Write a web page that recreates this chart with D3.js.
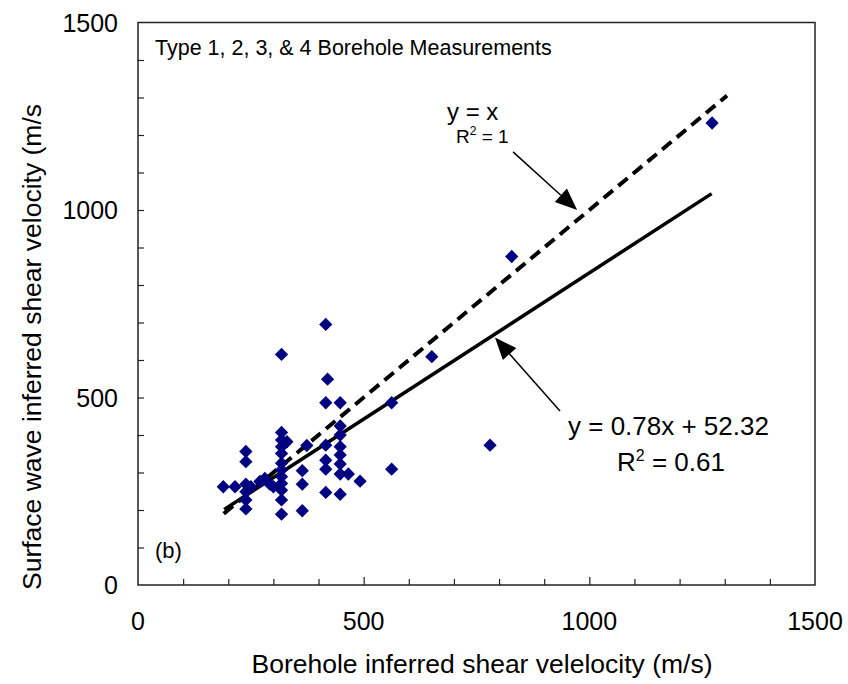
<!DOCTYPE html>
<html>
<head>
<meta charset="utf-8">
<script src="https://cdn.jsdelivr.net/npm/d3@7"></script>
<style>
  body { margin: 0; background: #fff; }
  svg { display: block; font-family: "Liberation Sans", Arial, sans-serif; }
</style>
</head>
<body>
<svg id="chart" width="848" height="684"></svg>
<script>
// --- data ---
const boreholeVs = [189, 215, 239, 239, 239, 239, 239, 239, 250, 270, 281, 292, 300,
    318, 318, 318, 330, 318, 318, 318, 318, 318, 318, 318, 318, 318,
    364, 364, 364, 374,
    416, 420, 416, 448, 416, 416, 416, 416,
    448, 448, 448, 448, 448, 448, 466, 492, 448,
    562, 562, 651, 780, 828, 1272];
const surfaceVs = [262, 262, 356, 329, 269, 249, 227, 203, 262, 276, 284, 269, 262,
    615, 407, 387, 382, 369, 351, 325, 307, 289, 271, 253, 227, 189,
    305, 269, 198, 372,
    695, 549, 486, 486, 373, 333, 309, 247,
    424, 400, 369, 347, 323, 296, 296, 277, 242,
    486, 309, 609, 373, 876, 1232];
const xTickLabels = [0, 500, 1000, 1500];
const yTickLabels = [0, 500, 1000, 1500];
const fitSlope = 0.78, fitIntercept = 52.32;
const fitRange = [191, 1271];
const unityRange = [190, 1305];

const svg = d3.select("#chart");
const x = d3.scaleLinear().domain([0, 1500]).range([138, 815]);
const y = d3.scaleLinear().domain([0, 1500]).range([585, 22.5]);

// frame
svg.append("rect")
    .attr("x", x(0)).attr("y", y(1500))
    .attr("width", x(1500) - x(0)).attr("height", y(0) - y(1500))
    .attr("fill", "none").attr("stroke", "#222").attr("stroke-width", 1.5);

// inside ticks
const xt = svg.append("g").attr("transform", `translate(0,${y(0)})`)
    .call(d3.axisBottom(x).tickValues(d3.range(100, 1500, 100)).tickSize(-6).tickFormat(""));
xt.select(".domain").remove();
xt.selectAll("line").attr("stroke", "#222").attr("stroke-width", 1.2)
    .attr("y2", d => d % 500 === 0 ? -8 : -6);
const yt = svg.append("g").attr("transform", `translate(${x(0)},0)`)
    .call(d3.axisLeft(y).tickValues(d3.range(100, 1500, 100)).tickSize(-6).tickFormat(""));
yt.select(".domain").remove();
yt.selectAll("line").attr("stroke", "#222").attr("stroke-width", 1.2);

// tick labels
svg.selectAll("text.xl").data(xTickLabels).enter().append("text")
    .attr("x", d => x(d)).attr("y", 630)
    .attr("text-anchor", "middle").attr("font-size", 25).text(d => d);
svg.selectAll("text.yl").data(yTickLabels).enter().append("text")
    .attr("x", 118).attr("y", d => y(d) + 9)
    .attr("text-anchor", "end").attr("font-size", 25).text(d => d);

// axis titles
svg.append("text").attr("x", 482).attr("y", 673).attr("text-anchor", "middle")
    .attr("font-size", 26.5).text("Borehole inferred shear velelocity (m/s)");
svg.append("text").attr("transform", "translate(41,590) rotate(-90)")
    .attr("font-size", 26.5).text("Surface wave inferred shear velocity (m/s");

// lines
const line = d3.line().x(d => x(d[0])).y(d => y(d[1]));
svg.append("path")
    .attr("d", line(unityRange.map(v => [v, v])))
    .attr("stroke", "#000").attr("stroke-width", 4).attr("stroke-dasharray", "12,7")
    .attr("fill", "none");
svg.append("path")
    .attr("d", line(fitRange.map(v => [v, fitSlope * v + fitIntercept])))
    .attr("stroke", "#000").attr("stroke-width", 3.5).attr("fill", "none");

// points
const sym = d3.symbol(d3.symbolSquare, 88);
svg.selectAll("path.pt").data(boreholeVs.map((v, i) => [v, surfaceVs[i]]))
    .enter().append("path")
    .attr("d", sym)
    .attr("transform", d => `translate(${x(d[0])},${y(d[1])}) rotate(45)`)
    .attr("fill", "#000080");

// arrows
function arrow(from, to) {
    const x0 = x(from[0]), y0 = y(from[1]), x1 = x(to[0]), y1 = y(to[1]);
    const a = Math.atan2(y1 - y0, x1 - x0), L = 22, hw = 9;
    const bx = x1 - L * Math.cos(a), by = y1 - L * Math.sin(a);
    svg.append("line").attr("x1", x0).attr("y1", y0).attr("x2", bx).attr("y2", by)
        .attr("stroke", "#000").attr("stroke-width", 1.5);
    svg.append("polygon").attr("points", [
        [x1, y1],
        [bx + hw * Math.sin(a), by - hw * Math.cos(a)],
        [bx - hw * Math.sin(a), by + hw * Math.cos(a)]
    ].map(p => p.join(",")).join(" ")).attr("fill", "#000");
}
arrow([831, 1155], [973, 1000]);
arrow([935, 464], [791, 660]);

// annotations
svg.append("text").attr("x", 155).attr("y", 55).attr("font-size", 21.5)
    .text("Type 1, 2, 3, & 4 Borehole Measurements");
svg.append("text").attr("x", 155).attr("y", 558).attr("font-size", 22).text("(b)");

svg.append("text").attr("x", 447).attr("y", 120).attr("font-size", 24).text("y = x");
const r1 = svg.append("text").attr("x", 456).attr("y", 143).attr("font-size", 19);
r1.append("tspan").text("R");
r1.append("tspan").attr("font-size", 12).attr("dy", -8).text("2");
r1.append("tspan").attr("dy", 8).text(" = 1");

svg.append("text").attr("x", 568).attr("y", 435).attr("font-size", 26)
    .text("y = 0.78x + 52.32");
const r2 = svg.append("text").attr("x", 617).attr("y", 471).attr("font-size", 26);
r2.append("tspan").text("R");
r2.append("tspan").attr("font-size", 16).attr("dy", -10).text("2");
r2.append("tspan").attr("dy", 10).text(" = 0.61");
</script>
</body>
</html>
